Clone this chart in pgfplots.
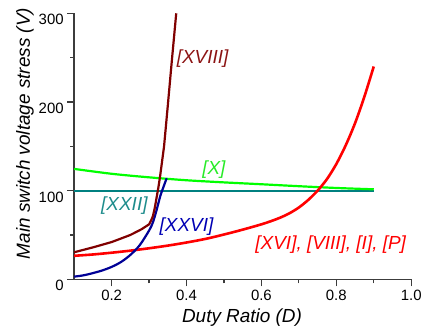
\documentclass[border=0pt]{standalone}
\usepackage{pgfplots}
\pgfplotsset{compat=1.18}
\usepackage{fontspec}
\setmainfont{Liberation Sans}
\definecolor{cred}{RGB}{255,0,0}
\definecolor{cmaroon}{RGB}{128,0,0}
\definecolor{cnavy}{RGB}{0,0,150}
\definecolor{cteal}{RGB}{0,128,128}
\definecolor{cgreen}{RGB}{0,255,0}
\definecolor{lmaroon}{RGB}{140,20,20}
\definecolor{lgreen}{RGB}{40,235,40}
\definecolor{lteal}{RGB}{30,140,140}
\definecolor{lnavy}{RGB}{0,0,180}
\definecolor{axisgray}{RGB}{60,60,60}
\begin{document}
\begin{tikzpicture}
\useasboundingbox (-74.2bp,-53.7bp) rectangle (349.8bp,279.3bp);
\begin{axis}[
  at={(0,0)}, anchor=south west,
  scale only axis, width=337bp, height=266bp,
  xmin=0.1, xmax=1.0, ymin=0, ymax=300,
  axis lines=left,
  axis line style={color=axisgray, line width=1.6bp, -},
  xtick={0.2,0.4,0.6,0.8,1.0}, xticklabels={0.2,0.4,0.6,0.8,1.0},
  minor xtick={0.3,0.5,0.7,0.9},
  ytick={0,100,200,300}, yticklabels={0,100,200,300},
  minor ytick={50,150,250},
  tick align=outside,
  major tick length=7bp, minor tick length=4bp,
  tick style={color=axisgray, line width=1.2bp},
  tick label style={font=\fontsize{15}{18}\selectfont, text=black},
  yticklabel style={yshift=-6.5bp},
  xlabel={Duty Ratio (D)},
  ylabel={Main switch voltage stress (V)},
  label style={font=\fontsize{19}{22}\selectfont\itshape},
  xlabel style={at={(axis description cs:0.498,-0.1455)}, anchor=center},
  ylabel style={at={(axis description cs:-0.146,0.548)}, anchor=center, rotate=0},
  clip=true,
]
% [XXII]
\addplot[cteal, line width=2.2bp] coordinates {(0.1,100) (0.9,100)};
% [X]
\addplot[cgreen, line width=2.2bp, smooth] coordinates {
(0.1,124.5) (0.2,119) (0.3,115) (0.4,111.7) (0.5,109.3) (0.6,107.2) (0.7,105) (0.8,103) (0.9,101.5)};
% [XVI],[VIII],[I],[P]
\addplot[cred, line width=2.6bp, smooth] coordinates {
(0.10,26.5) (0.15,28) (0.20,30) (0.25,32.3) (0.30,35) (0.35,38) (0.40,41.5)
(0.45,45.5) (0.50,50.5) (0.55,56) (0.60,62) (0.625,65.5) (0.65,69.5) (0.675,74.5)
(0.70,81) (0.725,89.5) (0.75,100) (0.775,113) (0.80,130) (0.825,151) (0.85,176)
(0.875,206) (0.90,240)};
% [XXVI]
\addplot[cnavy, line width=2.2bp, smooth] coordinates {
(0.10,3) (0.125,4.5) (0.15,7) (0.175,10) (0.20,14) (0.225,19.5) (0.25,27.5)
(0.275,38.5) (0.30,55) (0.31,64) (0.32,78) (0.33,94) (0.34,106) (0.347,114)};
% [XVIII]
\addplot[cmaroon, line width=2.2bp] coordinates {
(0.10,30.5) (0.15,36) (0.20,42) (0.25,50) (0.28,56.5) (0.30,62) (0.305,66)
(0.31,71) (0.315,80) (0.32,92) (0.325,104) (0.33,118) (0.335,134) (0.34,150)
(0.35,196) (0.36,243) (0.3725,300)};
\begin{scope}[every node/.style={font=\fontsize{19}{22}\selectfont\itshape, anchor=center, inner sep=0pt}]
\node[text=lmaroon] at (axis cs:0.443,249.2) {[XVIII]};
\node[text=lgreen] at (axis cs:0.473,123.3) {[X]};
\node[text=lteal] at (axis cs:0.234,82.9) {[XXII]};
\node[text=lnavy] at (axis cs:0.400,59.5) {[XXVI]};
\node[text=cred] at (axis cs:0.785,38.7) {[XVI], [VIII], [I], [P]};
\end{scope}
\end{axis}
\end{tikzpicture}
\end{document}
